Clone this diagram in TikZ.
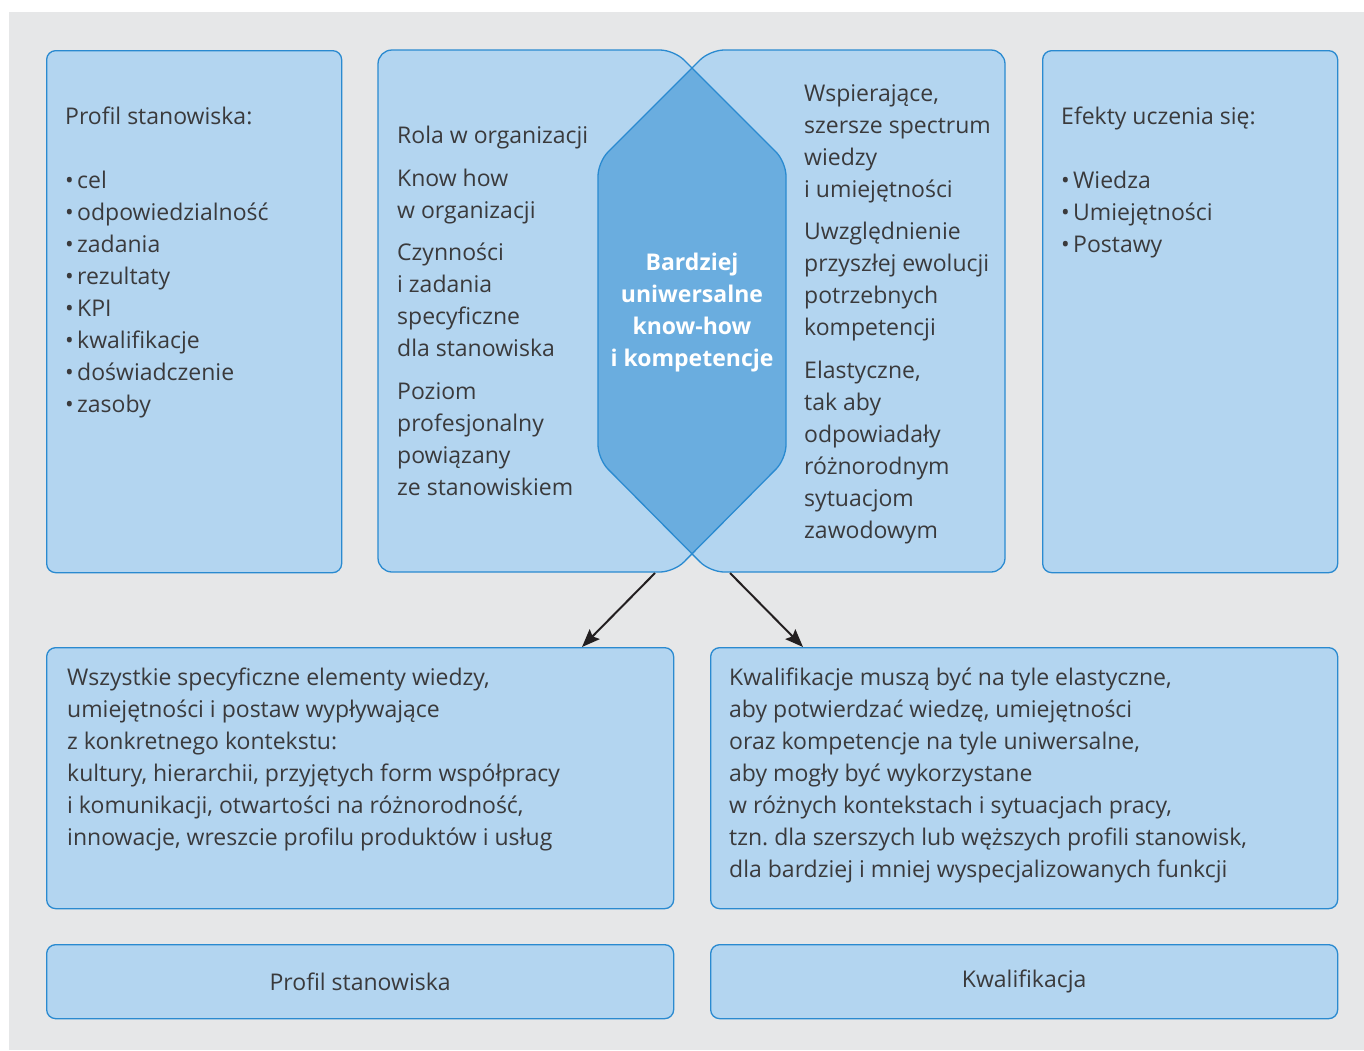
\documentclass[tikz,border=0pt]{standalone}
\usepackage{fontspec}
\setmainfont{Open Sans}
\usetikzlibrary{arrows.meta,calc}
\frenchspacing
\definecolor{bg}{HTML}{E6E7E8}
\definecolor{boxfill}{HTML}{B3D5F0}
\definecolor{boxline}{HTML}{2A8AD0}
\definecolor{hexfill}{HTML}{6AADDF}
\definecolor{txtc}{HTML}{3A3A3C}
\definecolor{arrc}{HTML}{231F20}
\newcommand\bul{\makebox[12pt][l]{•}}
\begin{document}
\begin{tikzpicture}[x=1pt,y=-1pt,
  panel/.style={fill=boxfill,draw=boxline,line width=1.3pt,rounded corners=9pt,inner sep=0pt},
  txt/.style={inner sep=0pt,align=left,text=txtc,font=\fontsize{23}{32}\selectfont},
  hextxt/.style={inner sep=0pt,align=center,text=white,font=\fontsize{23}{32}\selectfont\bfseries},
  arrowline/.style={draw=arrc,line width=2pt,-{Stealth[length=18pt,width=14pt,inset=3pt]}}]
\useasboundingbox (0,0) rectangle (1364,1050);
\fill[bg] (9,12) rectangle (1364,1050);
% simple panels
\node[panel,anchor=north west,minimum width=295pt,minimum height=522pt] (b1) at (46,50) {};
\node[panel,anchor=north west,minimum width=295pt,minimum height=522pt] (b4) at (1042,50) {};
\node[panel,anchor=north west,minimum width=627pt,minimum height=261pt] (b5) at (46,647) {};
\node[panel,anchor=north west,minimum width=627pt,minimum height=261pt] (b6) at (710,647) {};
\node[panel,anchor=north west,minimum width=627pt,minimum height=74pt,txt,align=center] (b7) at (46,944) {Profil stanowiska};
\node[panel,anchor=north west,minimum width=627pt,minimum height=74pt,txt,align=center] (b8) at (710,944) {Kwalifikacja};
% middle interlocking panels
\fill[boxfill,rounded corners=14pt] (500,50) -- (674,50) -- (786,162) -- (786,459) -- (674,572) -- (378,572) -- (378,50) -- cycle;
\fill[boxfill,rounded corners=14pt] (850,50) -- (1005,50) -- (1005,572) -- (710,572) -- (598,459) -- (598,162) -- (710,50) -- cycle;
\begin{scope}
\clip[rounded corners=14pt] (500,50) -- (674,50) -- (786,162) -- (786,459) -- (674,572) -- (378,572) -- (378,50) -- cycle;
\fill[hexfill,rounded corners=14pt] (850,50) -- (1005,50) -- (1005,572) -- (710,572) -- (598,459) -- (598,162) -- (710,50) -- cycle;
\end{scope}
\draw[boxline,line width=1.3pt,rounded corners=14pt] (500,50) -- (674,50) -- (786,162) -- (786,459) -- (674,572) -- (378,572) -- (378,50) -- cycle;
\draw[boxline,line width=1.3pt,rounded corners=14pt] (850,50) -- (1005,50) -- (1005,572) -- (710,572) -- (598,459) -- (598,162) -- (710,50) -- cycle;
% texts (anchored at the baseline of their last line)
\node[txt,anchor=base west] (t1) at (65,412) {Profil stanowiska:\\[32pt]
\bul cel\\ \bul odpowiedzialność\\ \bul zadania\\ \bul rezultaty\\ \bul KPI\\ \bul kwalifikacje\\ \bul doświadczenie\\ \bul zasoby};
\node[txt,anchor=base west] (t2) at (397,495) {Rola w organizacji\\[10.5pt]
Know how\\ w organizacji\\[10.5pt]
Czynności\\ i zadania\\ specyficzne\\ dla stanowiska\\[10.5pt]
Poziom\\ profesjonalny\\ powiązany\\ ze stanowiskiem};
\node[hextxt,anchor=base] (t3) at (692,366) {Bardziej\\ uniwersalne\\ know-how\\ i kompetencje};
\node[txt,anchor=base west] (t4) at (804,538) {Wspierające,\\ szersze spectrum\\ wiedzy\\ i umiejętności\\[10.5pt]
Uwzględnienie\\ przyszłej ewolucji\\ potrzebnych\\ kompetencji\\[10.5pt]
Elastyczne,\\ tak aby\\ odpowiadały\\ różnorodnym\\ sytuacjom\\ zawodowym};
\node[txt,anchor=base west] (t5) at (1061,252) {Efekty uczenia się:\\[32pt]
\bul Wiedza\\ \bul Umiejętności\\ \bul Postawy};
\node[txt,anchor=base west] (t6) at (67,845) {Wszystkie specyficzne elementy wiedzy,\\
umiejętności i postaw wypływające\\
z konkretnego kontekstu:\\
kultury, hierarchii, przyjętych form współpracy\\
i komunikacji, otwartości na różnorodność,\\
innowacje, wreszcie profilu produktów i usług};
\node[txt,anchor=base west] (t7) at (729,877) {Kwalifikacje muszą być na tyle elastyczne,\\
aby potwierdzać wiedzę, umiejętności\\
oraz kompetencje na tyle uniwersalne,\\
aby mogły być wykorzystane\\
w różnych kontekstach i sytuacjach pracy,\\
tzn. dla szerszych lub węższych profili stanowisk,\\
dla bardziej i mniej wyspecjalizowanych funkcji};
% arrows
\coordinate (s1) at (655,573);
\coordinate (s2) at (730,573);
\draw[arrowline] (s1) -- ($(b5.north west)+(536,0)$);
\draw[arrowline] (s2) -- ($(b6.north west)+(93,0)$);
\end{tikzpicture}
\end{document}
